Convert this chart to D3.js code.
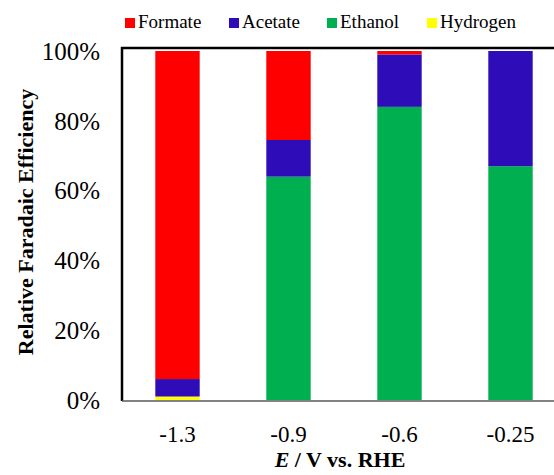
<!DOCTYPE html>
<html><head><meta charset="utf-8"><script src="https://cdn.jsdelivr.net/npm/d3@7"></script></head>
<body><script>
// data (fraction of total)
const potentials = ["-1.3", "-0.9", "-0.6", "-0.25"]
const hydrogen = [0.01, 0, 0, 0]
const ethanol = [0, 0.64, 0.84, 0.67]
const acetate = [0.05, 0.105, 0.15, 0.33]
const formate = [0.94, 0.255, 0.01, 0]
const yTicks = [0, 0.2, 0.4, 0.6, 0.8, 1]
const legendOrder = ["Formate", "Acetate", "Ethanol", "Hydrogen"]

const colors = {Formate: "#ff0000", Acetate: "#2e0cb8", Ethanol: "#00b050", Hydrogen: "#ffff00"}
const serif = "'Times New Roman'"

// stack order bottom -> top
const stackKeys = ["Hydrogen", "Ethanol", "Acetate", "Formate"]
const table = potentials.map((p, i) => ({
  potential: p,
  Hydrogen: hydrogen[i],
  Ethanol: ethanol[i],
  Acetate: acetate[i],
  Formate: formate[i]
}))

d3.select("body").style("margin", "0")
const svg = d3.select("body").append("svg")
  .attr("width", 554).attr("height", 475)
  .style("display", "block")
  .style("font-family", serif)

const plotLeft = 122, plotTop = 49, plotBottom = 401
const xScale = d3.scaleBand().domain(potentials).range([plotLeft, plotLeft + 444]).paddingInner(0.6).paddingOuter(0.3)
const yScale = d3.scaleLinear().domain([0, 1]).range([plotBottom - 1, plotTop + 2])

const stacked = d3.stack().keys(stackKeys)(table)

svg.append("g").selectAll("g")
  .data(stacked).join("g")
  .attr("fill", d => colors[d.key])
  .selectAll("rect")
  .data(d => d).join("rect")
  .attr("x", d => xScale(d.data.potential))
  .attr("width", xScale.bandwidth())
  .attr("y", d => yScale(d[1]))
  .attr("height", d => yScale(d[0]) - yScale(d[1]))

// plot area border (top + left visible, right side cut off)
svg.append("path")
  .attr("d", `M${plotLeft},${plotBottom} L${plotLeft},${plotTop - 1} L${plotLeft + 460},${plotTop - 1}`)
  .attr("fill", "none").attr("stroke", "#000").attr("stroke-width", 2.5)

// bottom axis line
svg.append("line")
  .attr("x1", plotLeft).attr("x2", 554).attr("y1", plotBottom).attr("y2", plotBottom)
  .attr("stroke", "#595959").attr("stroke-width", 1.5)

// y tick labels
svg.append("g").selectAll("text")
  .data(yTicks).join("text")
  .attr("x", plotLeft - 22).attr("y", d => yScale(d)).attr("dy", "0.35em")
  .attr("text-anchor", "end")
  .style("font-family", serif).style("font-size", "25px")
  .text(d3.format(".0%"))

// x tick labels
svg.append("g").selectAll("text")
  .data(potentials).join("text")
  .attr("x", d => xScale(d) + xScale.bandwidth() / 2).attr("y", 442)
  .attr("text-anchor", "middle")
  .style("font-family", serif).style("font-size", "23px")
  .text(d => d)

// axis titles
const xt = svg.append("text")
  .attr("x", 340).attr("y", 467)
  .attr("text-anchor", "middle")
  .style("font-family", serif).style("font-size", "22px").style("font-weight", "bold")
xt.append("tspan").style("font-style", "italic").text("E")
xt.append("tspan").text(" / V vs. RHE")

svg.append("text")
  .attr("transform", "translate(33,222) rotate(-90)")
  .attr("text-anchor", "middle")
  .style("font-family", serif).style("font-size", "22px").style("font-weight", "bold")
  .text("Relative Faradaic Efficiency")

// legend
const legendX = [125, 229, 327, 427]
const legend = svg.append("g").selectAll("g")
  .data(legendOrder).join("g")
  .attr("transform", (d, i) => `translate(${legendX[i]},18)`)
legend.append("rect")
  .attr("width", 10).attr("height", 10)
  .attr("fill", d => colors[d])
legend.append("text")
  .attr("x", 13).attr("y", 10)
  .style("font-family", serif).style("font-size", "19px")
  .text(d => d)
</script></body></html>
